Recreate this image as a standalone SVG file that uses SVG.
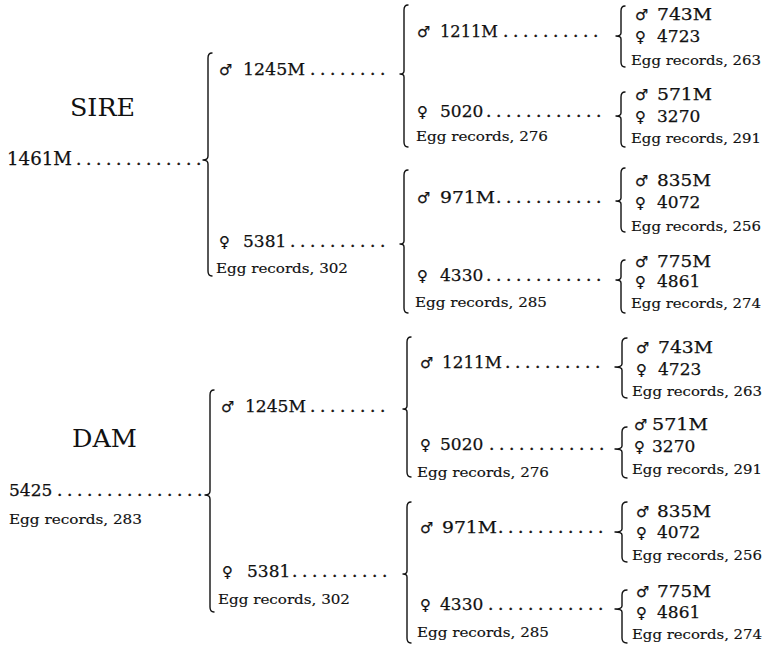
<svg xmlns="http://www.w3.org/2000/svg" width="767" height="650" viewBox="0 0 767 650">
<style>
text{font-family:"DejaVu Serif","Liberation Serif",serif;fill:#111}
.lbl{font-size:17px;stroke:#111;stroke-width:0.25}
.big{font-size:18px;stroke:#111;stroke-width:0.25}
.title{font-size:24px}
.sym{font-family:"DejaVu Sans","Noto Sans",sans-serif;font-size:15px;stroke-width:0.2}
.egg{font-size:13px;stroke:#111;stroke-width:0.15}
.dots{font-size:17px;letter-spacing:4.6px;stroke:#111;stroke-width:0.4}
.brace{fill:none;stroke:#111;stroke-width:1.4;stroke-linecap:round;stroke-linejoin:round}
</style>
<rect width="767" height="650" fill="#fff"/>
<g id="connectors">
<path class="brace" d="M212,53 Q208,53 208,58 V156 Q208,160 203,160 Q208,160 208,164 V271 Q208,276 212,276"/>
<path class="brace" d="M408,5 Q404,5 404,10 V71 Q404,74 400,74 Q404,74 404,77 V142 Q404,147 408,147"/>
<path class="brace" d="M408,170 Q404,170 404,175 V241 Q404,244 400,244 Q404,244 404,247 V308 Q404,313 408,313"/>
<path class="brace" d="M625,6 Q621,6 621,11 V33 Q621,36 616,36 Q621,36 621,39 V62 Q621,67 625,67"/>
<path class="brace" d="M625,92 Q621,92 621,97 V113 Q621,116 616,116 Q621,116 621,119 V142 Q621,147 625,147"/>
<path class="brace" d="M625,168 Q621,168 621,173 V198 Q621,201 616,201 Q621,201 621,204 V227 Q621,232 625,232"/>
<path class="brace" d="M625,260 Q621,260 621,265 V277 Q621,280 616,280 Q621,280 621,283 V308 Q621,313 625,313"/>
<path class="brace" d="M214,390 Q210,390 210,395 V491 Q210,495 205,495 Q210,495 210,499 V607 Q210,612 214,612"/>
<path class="brace" d="M411,337 Q407,337 407,342 V406 Q407,409 403,409 Q407,409 407,412 V472 Q407,477 411,477"/>
<path class="brace" d="M411,502 Q407,502 407,507 V571 Q407,574 403,574 Q407,574 407,577 V638 Q407,643 411,643"/>
<path class="brace" d="M627,338 Q622,338 622,343 V364 Q622,367 615,367 Q622,367 622,370 V393 Q622,398 627,398"/>
<path class="brace" d="M627,427 Q622,427 622,432 V446 Q622,449 615,449 Q622,449 622,452 V473 Q622,478 627,478"/>
<path class="brace" d="M627,502 Q622,502 622,507 V529 Q622,532 615,532 Q622,532 622,535 V557 Q622,562 627,562"/>
<path class="brace" d="M627,590 Q622,590 622,595 V606 Q622,609 615,609 Q622,609 622,612 V638 Q622,643 627,643"/>
</g>
<g id="sire-title"><text class="title" x="70" y="116" textLength="65" lengthAdjust="spacingAndGlyphs">SIRE</text></g>
<g id="sire-1461M">
<text class="big" x="7" y="165" textLength="65" lengthAdjust="spacingAndGlyphs">1461M</text>
<text class="dots" x="76" y="165">.............</text>
</g>
<g id="s-1245M">
<text class="lbl" y="75"><tspan class="sym" x="219">♂</tspan><tspan x="243" textLength="62" lengthAdjust="spacingAndGlyphs">1245M</tspan></text>
<text class="dots" x="310" y="75">........</text>
</g>
<g id="s-5381">
<text class="lbl" y="247"><tspan class="sym" x="219">♀</tspan><tspan x="243">5381</tspan></text>
<text class="dots" x="290" y="247">..........</text>
<text class="egg" x="216" y="273" textLength="132" lengthAdjust="spacingAndGlyphs">Egg records, 302</text>
</g>
<g id="s-1211M">
<text class="lbl" y="37"><tspan class="sym" x="417">♂</tspan><tspan x="440" textLength="58" lengthAdjust="spacingAndGlyphs">1211M</tspan></text>
<text class="dots" x="503" y="37">..........</text>
</g>
<g id="s-5020">
<text class="lbl" y="117"><tspan class="sym" x="417">♀</tspan><tspan x="440">5020</tspan></text>
<text class="dots" x="486" y="117">............</text>
<text class="egg" x="416" y="141" textLength="132" lengthAdjust="spacingAndGlyphs">Egg records, 276</text>
</g>
<g id="s-971M">
<text class="lbl" y="203"><tspan class="sym" x="417">♂</tspan><tspan x="440" textLength="55" lengthAdjust="spacingAndGlyphs">971M</tspan></text>
<text class="dots" x="496" y="203">...........</text>
</g>
<g id="s-4330">
<text class="lbl" y="281"><tspan class="sym" x="417">♀</tspan><tspan x="440">4330</tspan></text>
<text class="dots" x="486" y="281">............</text>
<text class="egg" x="415" y="307" textLength="132" lengthAdjust="spacingAndGlyphs">Egg records, 285</text>
</g>
<g id="s-743M-4723">
<text class="lbl" y="20"><tspan class="sym" x="635">♂</tspan><tspan x="657" textLength="55" lengthAdjust="spacingAndGlyphs">743M</tspan></text>
<text class="lbl" y="42"><tspan class="sym" x="635">♀</tspan><tspan x="657">4723</tspan></text>
<text class="egg" x="631" y="65" textLength="130" lengthAdjust="spacingAndGlyphs">Egg records, 263</text>
</g>
<g id="s-571M-3270">
<text class="lbl" y="100"><tspan class="sym" x="635">♂</tspan><tspan x="657" textLength="55" lengthAdjust="spacingAndGlyphs">571M</tspan></text>
<text class="lbl" y="122"><tspan class="sym" x="635">♀</tspan><tspan x="657">3270</tspan></text>
<text class="egg" x="631" y="143" textLength="130" lengthAdjust="spacingAndGlyphs">Egg records, 291</text>
</g>
<g id="s-835M-4072">
<text class="lbl" y="186"><tspan class="sym" x="635">♂</tspan><tspan x="657" textLength="54" lengthAdjust="spacingAndGlyphs">835M</tspan></text>
<text class="lbl" y="208"><tspan class="sym" x="635">♀</tspan><tspan x="657">4072</tspan></text>
<text class="egg" x="631" y="231" textLength="130" lengthAdjust="spacingAndGlyphs">Egg records, 256</text>
</g>
<g id="s-775M-4861">
<text class="lbl" y="267"><tspan class="sym" x="635">♂</tspan><tspan x="657" textLength="54" lengthAdjust="spacingAndGlyphs">775M</tspan></text>
<text class="lbl" y="287"><tspan class="sym" x="635">♀</tspan><tspan x="657">4861</tspan></text>
<text class="egg" x="631" y="308" textLength="130" lengthAdjust="spacingAndGlyphs">Egg records, 274</text>
</g>
<g id="dam-title"><text class="title" x="72" y="447" textLength="65" lengthAdjust="spacingAndGlyphs">DAM</text></g>
<g id="dam-5425">
<text class="lbl" x="9" y="496">5425</text>
<text class="dots" x="57" y="496">...............</text>
<text class="egg" x="9" y="524" textLength="133" lengthAdjust="spacingAndGlyphs">Egg records, 283</text>
</g>
<g id="d-1245M">
<text class="lbl" y="412"><tspan class="sym" x="221">♂</tspan><tspan x="245" textLength="61" lengthAdjust="spacingAndGlyphs">1245M</tspan></text>
<text class="dots" x="310" y="412">........</text>
</g>
<g id="d-5381">
<text class="lbl" y="577"><tspan class="sym" x="222">♀</tspan><tspan x="247">5381</tspan></text>
<text class="dots" x="292" y="577">..........</text>
<text class="egg" x="218" y="604" textLength="132" lengthAdjust="spacingAndGlyphs">Egg records, 302</text>
</g>
<g id="d-1211M">
<text class="lbl" y="368"><tspan class="sym" x="420">♂</tspan><tspan x="442" textLength="60" lengthAdjust="spacingAndGlyphs">1211M</tspan></text>
<text class="dots" x="505" y="368">..........</text>
</g>
<g id="d-5020">
<text class="lbl" y="450"><tspan class="sym" x="420">♀</tspan><tspan x="440">5020</tspan></text>
<text class="dots" x="489" y="450">............</text>
<text class="egg" x="417" y="477" textLength="132" lengthAdjust="spacingAndGlyphs">Egg records, 276</text>
</g>
<g id="d-971M">
<text class="lbl" y="533"><tspan class="sym" x="420">♂</tspan><tspan x="442" textLength="55" lengthAdjust="spacingAndGlyphs">971M</tspan></text>
<text class="dots" x="498" y="533">...........</text>
</g>
<g id="d-4330">
<text class="lbl" y="610"><tspan class="sym" x="420">♀</tspan><tspan x="440">4330</tspan></text>
<text class="dots" x="488" y="610">............</text>
<text class="egg" x="417" y="637" textLength="132" lengthAdjust="spacingAndGlyphs">Egg records, 285</text>
</g>
<g id="d-743M-4723">
<text class="lbl" y="353"><tspan class="sym" x="636">♂</tspan><tspan x="658" textLength="55" lengthAdjust="spacingAndGlyphs">743M</tspan></text>
<text class="lbl" y="375"><tspan class="sym" x="636">♀</tspan><tspan x="658">4723</tspan></text>
<text class="egg" x="632" y="396" textLength="130" lengthAdjust="spacingAndGlyphs">Egg records, 263</text>
</g>
<g id="d-571M-3270">
<text class="lbl" y="430"><tspan class="sym" x="634">♂</tspan><tspan x="652" textLength="56" lengthAdjust="spacingAndGlyphs">571M</tspan></text>
<text class="lbl" y="452"><tspan class="sym" x="634">♀</tspan><tspan x="652">3270</tspan></text>
<text class="egg" x="632" y="474" textLength="130" lengthAdjust="spacingAndGlyphs">Egg records, 291</text>
</g>
<g id="d-835M-4072">
<text class="lbl" y="517"><tspan class="sym" x="636">♂</tspan><tspan x="657" textLength="54" lengthAdjust="spacingAndGlyphs">835M</tspan></text>
<text class="lbl" y="538"><tspan class="sym" x="636">♀</tspan><tspan x="657">4072</tspan></text>
<text class="egg" x="632" y="560" textLength="130" lengthAdjust="spacingAndGlyphs">Egg records, 256</text>
</g>
<g id="d-775M-4861">
<text class="lbl" y="597"><tspan class="sym" x="636">♂</tspan><tspan x="657" textLength="54" lengthAdjust="spacingAndGlyphs">775M</tspan></text>
<text class="lbl" y="618"><tspan class="sym" x="636">♀</tspan><tspan x="657">4861</tspan></text>
<text class="egg" x="632" y="639" textLength="130" lengthAdjust="spacingAndGlyphs">Egg records, 274</text>
</g>
</svg>
